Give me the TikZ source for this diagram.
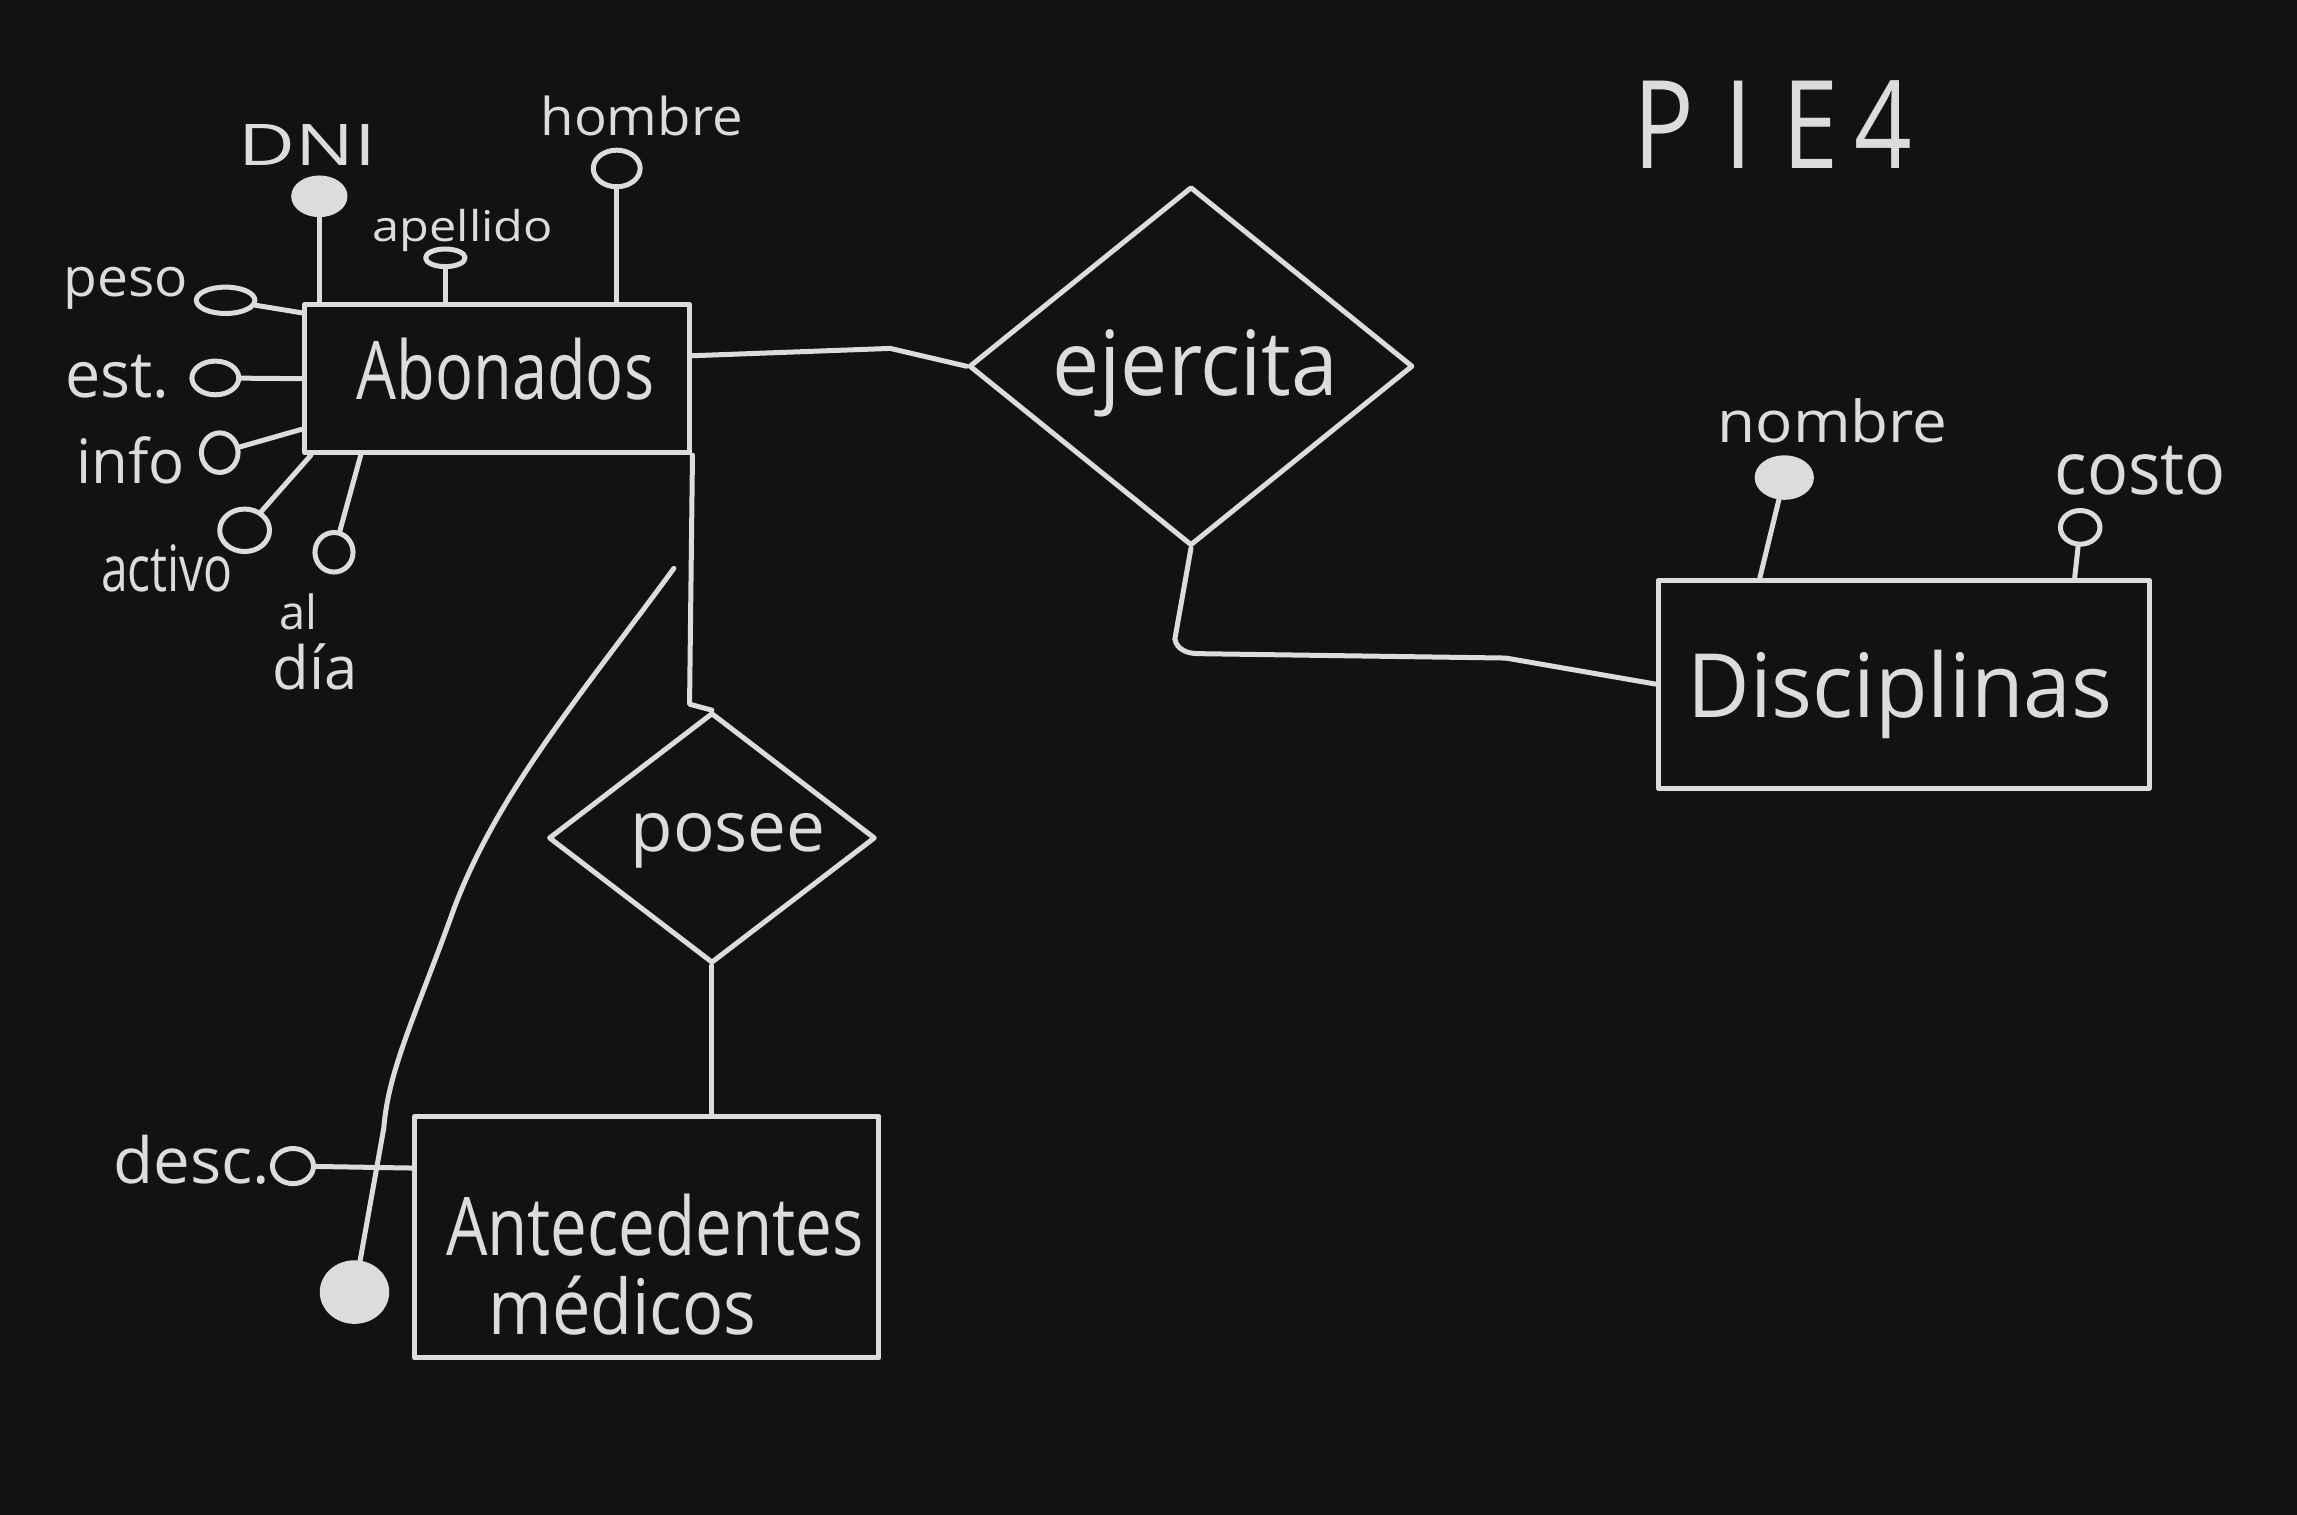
\documentclass[tikz,border=0pt]{standalone}
\usepackage{fontspec}
\setmainfont{Open Sans}
\usepackage{graphicx}
\usetikzlibrary{shapes.geometric,calc}
\definecolor{bg}{HTML}{121212}
\definecolor{ink}{HTML}{DCDCDC}
\newlength\pxu
\setlength\pxu{0.7325pt}
\newcommand\fitt[3]{\resizebox{#1\pxu}{#2\pxu}{#3}}
\newcommand\fitw[2]{\resizebox{#1\pxu}{!}{#2}}
\tikzset{
  ent/.style={draw, rectangle, inner sep=0pt},
  rel/.style={draw, diamond, inner sep=0pt},
  att/.style={draw, ellipse, inner sep=0pt, minimum width=26\pxu, minimum height=24\pxu},
  keyatt/.style={draw, fill=ink, ellipse, inner sep=0pt},
  lbl/.style={inner sep=0pt, text=ink}
}
\begin{document}
\begin{tikzpicture}[x=\pxu, y=-\pxu, color=ink, line width=2.5pt, line cap=round, line join=round]
\fill[bg] (0,0) rectangle (1568,1034);
\useasboundingbox (0,0) rectangle (1568,1034);

% title
\node[lbl] (title) at (1210,85) {\fitt{190}{60}{P\hspace{0.3em}I\hspace{0.3em}E\hspace{0.15em}4}};

% entities
\node[ent, minimum width=263\pxu, minimum height=101\pxu] (abon) at (339.5,258.5) {};
\node[lbl] (abonL) at (345,252) {\fitt{203}{42}{Abonados}};
\node[ent, minimum width=335\pxu, minimum height=142\pxu] (disc) at (1299.5,467) {};
\node[lbl] (discL) at (1297,474) {\fitt{290}{46}{Disciplinas}};
\node[ent, minimum width=317\pxu, minimum height=165\pxu] (ant) at (441.5,844.5) {};
\node[lbl] (antA) at (447,836) {\fitt{285}{42}{Antecedentes}};
\node[lbl] (antB) at (425,891) {\fitt{183}{40}{médicos}};

% relationships
\node[rel, minimum width=303\pxu, minimum height=245\pxu] (ej) at (813,250) {};
\node[lbl] (ejL) at (816,255) {\fitt{195}{45}{ejercita}};
\node[rel, minimum width=223\pxu, minimum height=171\pxu] (pos) at (486,572) {};
\node[lbl] (posL) at (497,574) {\fitt{133}{26}{posee}};

% Abonados attributes
\node[keyatt, minimum width=35\pxu, minimum height=25\pxu] (dni) at (218,134) {};
\node[lbl] (dniL) at (210,99) {\fitt{94}{28}{DNI}};
\draw (dni) -- (dni |- abon.north);

\node[att, minimum width=27\pxu, minimum height=12\pxu] (ape) at (304,176) {};
\node[lbl] (apeL) at (316,157) {\fitt{123}{22}{apellido}};
\draw (ape) -- (ape |- abon.north);

\node[att, minimum width=32\pxu, minimum height=25\pxu] (hom) at (421,115) {};
\node[lbl] (homL) at (438,79) {\fitt{138}{27}{hombre}};
\draw (hom) -- (hom |- abon.north);

\node[att, minimum width=40\pxu, minimum height=18\pxu] (pes) at (154,205) {};
\node[lbl] (pesL) at (86,197) {\fitt{85}{20}{peso}};
\draw (pes) -- ($(abon.north west)!0.07!(abon.south west)$);

\node[att, minimum width=32\pxu, minimum height=23\pxu] (est) at (147,258) {};
\node[lbl] (estL) at (80,257) {\fitt{71}{29}{est.}};
\draw (est) -- (abon.west);

\node[att, minimum width=25\pxu, minimum height=27\pxu] (inf) at (150,309) {};
\node[lbl] (infL) at (89,314) {\fitt{74}{32}{info}};
\draw (inf) -- ($(abon.north west)!0.83!(abon.south west)$);

\node[att, minimum width=34\pxu, minimum height=29\pxu] (act) at (167,362) {};
\node[lbl] (actL) at (114,388) {\fitt{90}{32}{activo}};
\draw (act) -- ([xshift=6\pxu]abon.south west);

\node[att, minimum width=26\pxu, minimum height=27\pxu] (ald) at (228,377) {};
\node[lbl] (aldA) at (204,418) {\fitw{26}{al}};
\node[lbl] (aldB) at (215,455) {\fitw{58}{día}};
\draw (ald) -- ($(abon.south west)!0.15!(abon.south east)$);

% Antecedentes attributes
\node[att, minimum width=28\pxu, minimum height=24\pxu] (des) at (200,796) {};
\node[lbl] (desL) at (131,792) {\fitt{107}{33}{desc.}};
\draw (des) -- ($(ant.north west)!0.22!(ant.south west)$);

\node[keyatt, minimum width=44\pxu, minimum height=40\pxu] (pk) at (242,882) {};
\coordinate (pkstart) at (460,388);
\draw (pkstart) .. controls (400,470) and (340,540) .. (310,620)
      .. controls (285,690) and (265,730) .. (262,770) -- (pk);

% Disciplinas attributes
\node[keyatt, minimum width=37\pxu, minimum height=27\pxu] (nom) at (1218,326) {};
\node[lbl] (nomL) at (1251,287) {\fitt{157}{30}{nombre}};
\draw (nom) -- ($(disc.north west)!0.21!(disc.north east)$);

\node[att, minimum width=27\pxu, minimum height=23\pxu] (cos) at (1420,360) {};
\node[lbl] (cosL) at (1461,321) {\fitt{117}{33}{costo}};
\draw (cos) -- ($(disc.north west)!0.845!(disc.north east)$);

% relationship connectors
\draw ($(abon.north east)!0.35!(abon.south east)$) -- ++(135,-5) -- (ej.west);
\draw (ej.south) -- ++(-11,62) to[out=-80,in=180] ++(16,10) -- ++(210,3) -- (disc.west);
\draw (abon.south east) -- ++(-2,170) -- (pos.north);
\draw (pos.south) -- (pos.south |- ant.north);
\end{tikzpicture}
\end{document}
